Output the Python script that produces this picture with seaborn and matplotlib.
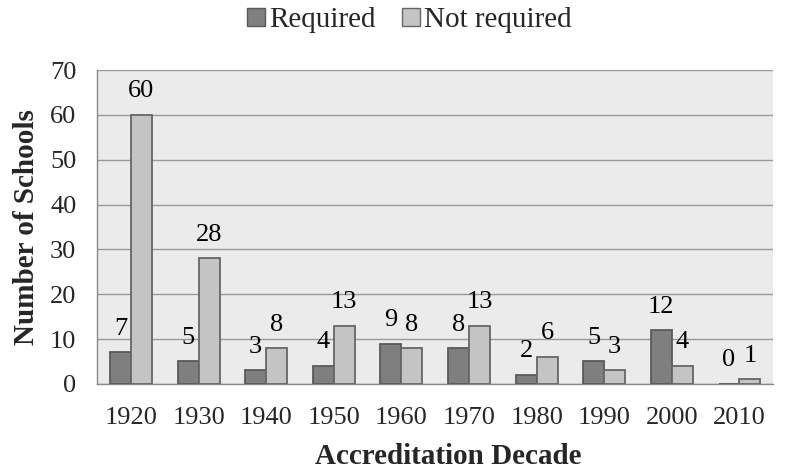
import pandas as pd
import matplotlib.pyplot as plt
import seaborn as sns
from matplotlib.patches import Patch

decades = ["1920", "1930", "1940", "1950", "1960", "1970", "1980", "1990", "2000", "2010"]
required = [7, 5, 3, 4, 9, 8, 2, 5, 12, 0]
not_required = [60, 28, 8, 13, 8, 13, 6, 3, 4, 1]

COLORS = {"Required": "#7f7f7f", "Not required": "#c4c4c4"}
EDGES = {"Required": "#5a5a5a", "Not required": "#666666"}

df = pd.DataFrame({
    "Decade": decades * 2,
    "Schools": required + not_required,
    "Group": ["Required"] * len(decades) + ["Not required"] * len(decades),
})

sns.set_style("white")
plt.rcParams["font.family"] = ["Liberation Serif", "DejaVu Serif"]

fig = plt.figure(figsize=(8.03, 4.71), dpi=100)
ax = fig.add_axes([0.121, 0.185, 0.842, 0.666])
ax.set_facecolor("#ebebeb")

sns.barplot(data=df, x="Decade", y="Schools", hue="Group", palette=COLORS,
            width=0.62, gap=0, ax=ax, legend=False, zorder=3)

for cont, grp in zip(ax.containers, ["Required", "Not required"]):
    for bar in cont:
        bar.set_edgecolor(EDGES[grp])
        bar.set_linewidth(1.3)
    ax.bar_label(cont, fmt="%d", padding=9, fontsize=19, color="black")

ax.set_ylim(0, 70)
ax.set_yticks(range(0, 71, 10))
ax.set_xlim(-0.5, len(decades) - 0.5)
ax.grid(axis="y", color="#9a9a9a", linewidth=1, zorder=0)
ax.set_axisbelow(True)

for s in ["top", "right"]:
    ax.spines[s].set_visible(False)
for s in ["left", "bottom"]:
    ax.spines[s].set_color("#8a8a8a")
    ax.spines[s].set_linewidth(1)

ax.set_xticks([i + 0.5 for i in range(-1, len(decades))], minor=True)
ax.tick_params(axis="x", which="major", length=0, labelsize=19, pad=17)
ax.tick_params(axis="x", which="minor", length=7, width=1, color="#8a8a8a", direction="out")
ax.tick_params(axis="y", length=7, width=1, color="#8a8a8a", direction="out", labelsize=19, pad=8)

ax.set_xlabel("Accreditation Decade", fontsize=21, fontweight="bold")
ax.xaxis.set_label_coords(0.52, -0.19)
ax.set_ylabel("Number of Schools", fontsize=21, fontweight="bold")
ax.yaxis.set_label_coords(-0.085, 0.5)

handles = [Patch(facecolor=COLORS[g], edgecolor=EDGES[g], label=g) for g in ["Required", "Not required"]]
fig.legend(handles=handles, loc="upper center", bbox_to_anchor=(0.51, 1.04), ncol=2,
           frameon=False, fontsize=21, handlelength=0.6, handleheight=0.6,
           handletextpad=0.15, columnspacing=0.9)

fig.savefig("out.png", dpi=100)
